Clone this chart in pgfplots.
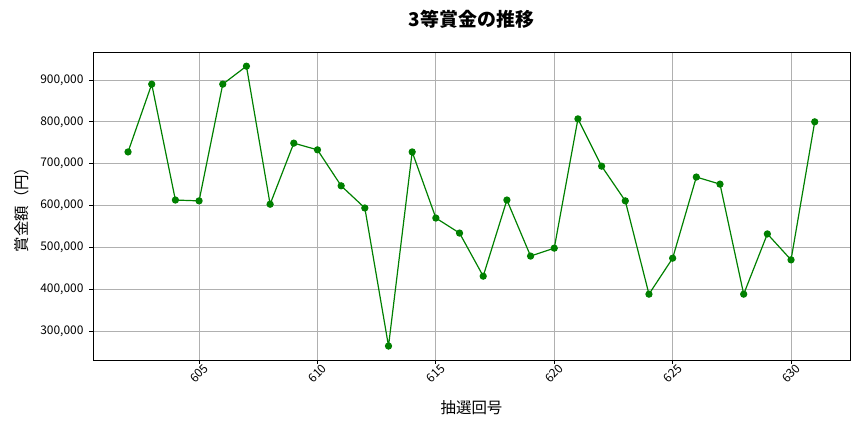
\documentclass[border=0pt]{standalone}
\usepackage{pgfplots}
\pgfplotsset{compat=1.18}
\usepackage{fontspec}
\setmainfont{Noto Sans CJK JP}
\definecolor{mplgreen}{HTML}{008000}
\definecolor{gridgray}{HTML}{B0B0B0}
\begin{document}
\begin{tikzpicture}
\path[use as bounding box] (-93bp,-72bp) rectangle (771bp,360bp);
\begin{axis}[
  at={(0,0)}, anchor=south west,
  scale only axis,
  width=757bp, height=308bp,
  xmin=600.52, xmax=632.49,
  ymin=230600, ymax=966900,
  xtick={605,610,615,620,625,630},
  ytick={300000,400000,500000,600000,700000,800000,900000},
  grid=major,
  major grid style={gridgray, line width=0.8bp},
  axis line style={line width=0.8bp},
  tick align=outside,
  major tick length=3.5bp,
  tick style={black, line width=0.8bp},
  xtick pos=bottom, ytick pos=left,
  /pgf/number format/assume math mode=true,
  scaled y ticks=false,
  yticklabel={\pgfmathprintnumber[fixed, precision=0, 1000 sep={,}]{\tick}},
  xticklabel={\pgfmathprintnumber[fixed, precision=0, 1000 sep={}]{\tick}},
  tick label style={font=\fontsize{12}{14}\selectfont},
  yticklabel style={xshift=-2.5bp},
  xticklabel style={anchor=center, rotate=45, xshift=-7bp, yshift=-7bp},
  title={\bfseries 3等賞金の推移},
  title style={font=\fontsize{19}{22}\selectfont, at={(axis description cs:0.5,1)}, anchor=center, yshift=27bp},
  xlabel={抽選回号},
  ylabel={賞金額（円）},
  label style={font=\fontsize{15.5}{18}\selectfont},
  xlabel style={at={(axis description cs:0.5,0)}, anchor=center, yshift=-48bp},
  ylabel style={at={(axis description cs:-0.0938,0.5)}, anchor=center},
]
\addplot[mplgreen, line width=1.2bp, mark=*, mark size=3bp, mark options={fill=mplgreen, draw=mplgreen}] coordinates {
(602,728000) (603,890000) (604,613000) (605,611000) (606,890000)
(607,933000) (608,603000) (609,749000) (610,733000) (611,647000)
(612,594000) (613,264000) (614,728000) (615,570000) (616,534000)
(617,431000) (618,613000) (619,479000) (620,498000) (621,807000)
(622,694000) (623,611000) (624,388000) (625,474000) (626,668000)
(627,651000) (628,388000) (629,532000) (630,470000) (631,800000)
};
\end{axis}
\end{tikzpicture}
\end{document}
